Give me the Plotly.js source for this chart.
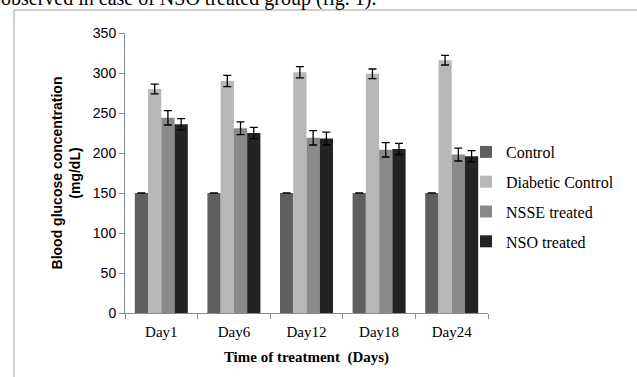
<!DOCTYPE html>
<html><head><meta charset="utf-8">
<script src="https://cdn.plot.ly/plotly-3.0.1.min.js"></script>
<style>html,body{margin:0;padding:0;background:#fff;}</style>
</head><body><div id="chart" style="width:637px;height:377px;"></div>
<script>
const days = ["Day1", "Day6", "Day12", "Day18", "Day24"];
const seriesNames = ["Control", "Diabetic Control", "NSSE treated", "NSO treated"];
const control = [150, 150, 150, 150, 150];
const controlErr = [0, 0, 0, 0, 0];
const diabetic = [280, 290, 301, 299, 316];
const diabeticErr = [6, 7, 7, 6, 6];
const nsse = [244, 231, 219, 204, 198];
const nsseErr = [9, 8, 9, 9, 8];
const nso = [236, 225, 218, 205, 196];
const nsoErr = [7, 7, 8, 7, 7];
const colors = ["#5f5f5f", "#b7b7b7", "#8a8a8a", "#232323"];

const L = 125, R = 488, T = 33, B = 313, W = 637, H = 377;
const px = x => (x - L) / (R - L);
const py = y => (B - y) / (B - T);

const vals = [control, diabetic, nsse, nso];
const errs = [controlErr, diabeticErr, nsseErr, nsoErr];
const traces = vals.map((v, i) => ({
  type: "bar", x: days, y: v, name: seriesNames[i],
  marker: {color: colors[i], line: {width: 0}},
  legendgroup: "g" + i,
  error_y: {type: "data", array: errs[i], visible: true, color: "#000", thickness: 1.3, width: 4}
}));

const layout = {
  width: W, height: H, autosize: false,
  margin: {l: L, r: W - R, t: T, b: H - B, pad: 0},
  paper_bgcolor: "#fff", plot_bgcolor: "#fff",
  barmode: "group", bargap: 0.27, bargroupgap: 0,
  font: {family: "Liberation Serif, serif", color: "#000"},
  showlegend: true,
  legend: {x: px(466), xanchor: "left", y: py(197), yanchor: "middle", font: {family: "Liberation Serif", size: 16, color: "#000"},
           traceorder: "grouped", tracegroupgap: 6, bgcolor: "rgba(0,0,0,0)"},
  xaxis: {showline: true, linecolor: "#8c8c8c", linewidth: 1, ticks: "outside", tickson: "boundaries",
          ticklen: 5, tickcolor: "#8c8c8c", showgrid: false, zeroline: false, ticklabelstandoff: 5,
          tickfont: {family: "Liberation Serif", size: 15, color: "#000"},
          title: {text: "<b>Time of treatment  (Days)</b>", font: {family: "Liberation Serif", size: 15, color: "#000"}, standoff: 12}},
  yaxis: {range: [0, 350], dtick: 50, showline: true, linecolor: "#8c8c8c", linewidth: 1, ticks: "outside",
          ticklen: 5, tickcolor: "#8c8c8c", showgrid: false, zeroline: false,
          tickfont: {family: "Liberation Sans, sans-serif", size: 14, color: "#000"},
          title: {text: "<b>Blood glucose concentration<br>(mg/dL)</b>", font: {family: "Liberation Sans, sans-serif", size: 14, color: "#000"}, standoff: 8}},
  shapes: [
    {type: "line", xref: "paper", yref: "paper", x0: px(14), x1: px(14), y0: py(10), y1: py(380), line: {color: "#a0a0a0", width: 1}},
    {type: "line", xref: "paper", yref: "paper", x0: px(14), x1: px(640), y0: py(10), y1: py(10), line: {color: "#a0a0a0", width: 1}}
  ],
  annotations: [
    {xref: "paper", yref: "paper", x: px(-1), y: py(12), xanchor: "left", yanchor: "bottom", showarrow: false,
     text: "observed in case of NSO treated group (fig. 1).", font: {family: "Liberation Serif", size: 20, color: "#000"}}
  ]
};

Plotly.newPlot("chart", traces, layout, {displayModeBar: false, staticPlot: true});
</script></body></html>
